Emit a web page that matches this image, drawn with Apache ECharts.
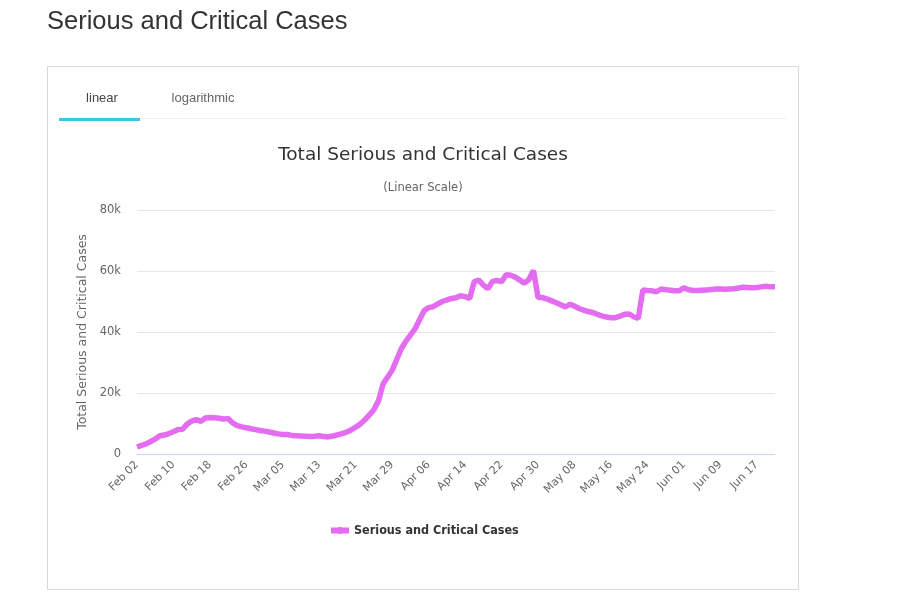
<!DOCTYPE html>
<html>
<head>
<meta charset="utf-8">
<script src="https://cdn.jsdelivr.net/npm/echarts@6/dist/echarts.min.js"></script>
<style>
html,body{margin:0;padding:0;background:#fff;}
#chart{width:900px;height:592px;}
</style>
</head>
<body>
<div id="chart"></div>
<script>
const pageTitle = 'Serious and Critical Cases';
const tabLabels = ['linear', 'logarithmic'];
const chartTitle = 'Total Serious and Critical Cases';
const chartSubtitle = '(Linear Scale)';
const yAxisName = 'Total Serious and Critical Cases';
const seriesName = 'Serious and Critical Cases';
const yTicks = [0, 20000, 40000, 60000, 80000];

const dates = [
 'Feb 02','Feb 03','Feb 04','Feb 05','Feb 06','Feb 07','Feb 08','Feb 09','Feb 10','Feb 11','Feb 12','Feb 13','Feb 14','Feb 15','Feb 16','Feb 17','Feb 18','Feb 19','Feb 20','Feb 21','Feb 22','Feb 23','Feb 24','Feb 25','Feb 26','Feb 27','Feb 28','Feb 29',
 'Mar 01','Mar 02','Mar 03','Mar 04','Mar 05','Mar 06','Mar 07','Mar 08','Mar 09','Mar 10','Mar 11','Mar 12','Mar 13','Mar 14','Mar 15','Mar 16','Mar 17','Mar 18','Mar 19','Mar 20','Mar 21','Mar 22','Mar 23','Mar 24','Mar 25','Mar 26','Mar 27','Mar 28','Mar 29','Mar 30','Mar 31',
 'Apr 01','Apr 02','Apr 03','Apr 04','Apr 05','Apr 06','Apr 07','Apr 08','Apr 09','Apr 10','Apr 11','Apr 12','Apr 13','Apr 14','Apr 15','Apr 16','Apr 17','Apr 18','Apr 19','Apr 20','Apr 21','Apr 22','Apr 23','Apr 24','Apr 25','Apr 26','Apr 27','Apr 28','Apr 29','Apr 30',
 'May 01','May 02','May 03','May 04','May 05','May 06','May 07','May 08','May 09','May 10','May 11','May 12','May 13','May 14','May 15','May 16','May 17','May 18','May 19','May 20','May 21','May 22','May 23','May 24','May 25','May 26','May 27','May 28','May 29','May 30','May 31',
 'Jun 01','Jun 02','Jun 03','Jun 04','Jun 05','Jun 06','Jun 07','Jun 08','Jun 09','Jun 10','Jun 11','Jun 12','Jun 13','Jun 14','Jun 15','Jun 16','Jun 17','Jun 18','Jun 19','Jun 20','Jun 21'
];

const seriousCases = [
 2300,2800,3300,4100,4900,6000,6200,6700,7300,8000,8100,9800,10800,11300,10700,11800,12000,11900,11700,11500,11600,10200,9300,8900,8600,8300,8000,7700,
 7500,7200,6900,6600,6400,6400,6100,6000,5900,5800,5700,5800,6000,5700,5600,5900,6300,6700,7200,7900,8800,9800,11200,12800,14600,17500,23000,25200,27500,31000,34500,
 37000,39000,41000,44000,47000,48000,48300,49200,50000,50500,51000,51200,51900,51600,51000,56500,57000,55400,54200,56600,56900,56500,58800,58600,58000,57000,56000,57200,60200,51300,
 51300,50800,50200,49600,48900,48200,49100,48500,47700,47200,46700,46400,45800,45300,44900,44700,44700,45200,45800,45900,45000,44500,53800,53600,53500,53200,54100,53900,53700,53500,53500,
 54500,53900,53600,53600,53700,53800,53900,54100,54100,54000,54100,54200,54400,54700,54600,54500,54600,54800,55000,54800,54800
];

const chart = echarts.init(document.getElementById('chart'), null, {renderer: 'canvas'});
const lineColor = '#e46cf0';
const fontLabel = '"DejaVu Sans", "Noto Sans", sans-serif';

chart.setOption({
  animation: false,
  backgroundColor: '#ffffff',
  graphic: [
    {type: 'text', left: 47, top: 9, style: {text: pageTitle, fill: '#333', font: '25.5px "Liberation Sans", Arial, sans-serif'}},
    {type: 'rect', shape: {x: 47.5, y: 66.5, width: 751, height: 523}, style: {fill: 'none', stroke: '#d9d9d9', lineWidth: 1}, z: -1},
    {type: 'rect', shape: {x: 140, y: 118, width: 646, height: 1}, style: {fill: '#eeeeee'}},
    {type: 'rect', shape: {x: 59, y: 118, width: 81, height: 3}, style: {fill: '#3ec3e6'}},
    {type: 'text', x: 102, y: 98, style: {text: tabLabels[0], fill: '#444', font: '13px "Liberation Sans", Arial, sans-serif', align: 'center', verticalAlign: 'middle'}},
    {type: 'text', x: 203, y: 98, style: {text: tabLabels[1], fill: '#666', font: '13px "Liberation Sans", Arial, sans-serif', align: 'center', verticalAlign: 'middle'}}
  ],
  title: [
    {text: chartTitle, left: 418, top: 141, textAlign: 'center', textStyle: {fontSize: 18.5, fontWeight: 'normal', color: '#333', fontFamily: fontLabel}},
    {text: chartSubtitle, left: 418, top: 177, textAlign: 'center', textStyle: {fontSize: 11.5, fontWeight: 'normal', color: '#666', fontFamily: fontLabel}}
  ],
  legend: {
    data: [{name: seriesName}],
    left: 323, top: 519, itemWidth: 18, itemHeight: 9, itemGap: 5,
    lineStyle: {width: 6},
    textStyle: {fontWeight: 'bold', fontSize: 12.5, color: '#333', fontFamily: '"DejaVu Sans Condensed", "Open Sans", sans-serif'}
  },
  grid: {left: 137, right: 125, top: 210, bottom: 138, containLabel: false},
  xAxis: {
    type: 'category', data: dates, boundaryGap: false,
    axisLine: {lineStyle: {color: '#ccd6eb'}},
    axisTick: {show: false},
    axisLabel: {interval: 7, rotate: 45, color: '#666', fontSize: 11, margin: 9, fontFamily: fontLabel}
  },
  yAxis: {
    type: 'value', min: yTicks[0], max: yTicks[yTicks.length - 1], interval: 20000,
    name: yAxisName, nameLocation: 'middle', nameGap: 46,
    nameTextStyle: {color: '#666', fontSize: 12.5, fontFamily: fontLabel},
    axisLine: {show: false}, axisTick: {show: false},
    splitLine: {lineStyle: {color: '#e6e6e6'}},
    axisLabel: {color: '#666', fontSize: 11.5, margin: 16, fontFamily: fontLabel,
      formatter: v => v === 0 ? '0' : (v / 1000) + 'k'}
  },
  series: [{
    name: seriesName, type: 'line', data: seriousCases,
    symbol: 'circle', symbolSize: 8, showSymbol: false,
    lineStyle: {color: lineColor, width: 5.5},
    itemStyle: {color: lineColor}
  }]
});
</script>
</body>
</html>
